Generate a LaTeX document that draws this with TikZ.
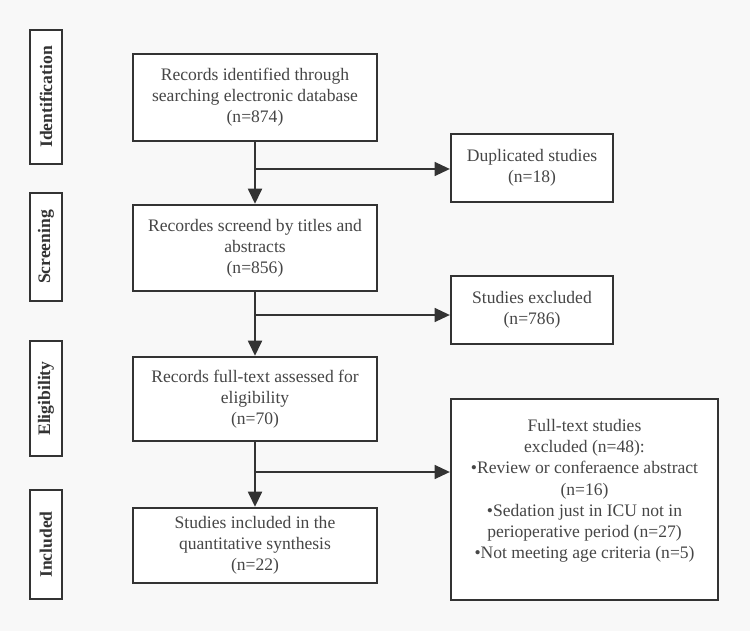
\documentclass[tikz,border=0pt]{standalone}
\usepackage{fontspec}
\setmainfont{Liberation Serif}
\usetikzlibrary{arrows.meta}
\definecolor{bg}{HTML}{F8F8F8}
\definecolor{ink}{HTML}{333333}
\definecolor{txt}{HTML}{464646}

\begin{document}
\begin{tikzpicture}[
	box/.style = {draw=ink, fill=white, line width=2pt, text=txt, align=center, inner sep=0pt, font=\fontsize{15}{18}\selectfont},
	phase/.style = {box, rotate=90, text=ink, minimum height=0.96cm, font=\fontsize{15}{18}\selectfont\bfseries},
	flow/.style = {draw=ink, line width=1.7pt, -{Triangle[length=13pt,width=12pt]}},
	side/.style = {draw=ink, line width=1.1pt, -{Triangle[length=13pt,width=12pt]}}
]

	\fill [bg] (0,0) rectangle (22.5,18.93);

	% phases
	\node [phase, minimum width=4.02cm] (ident) at (1.38,16.02) {Identification};
	\node [phase, minimum width=3.24cm] (screen) at (1.38,11.52) {Screening};
	\node [phase, minimum width=3.45cm] (elig) at (1.38,6.975) {Eligibility};
	\node [phase, minimum width=3.27cm] (incl) at (1.38,2.595) {Included};

	% main boxes
	\node [box, minimum width=7.32cm, minimum height=2.61cm] (records) at (7.65,16.005) {Records identified through\\searching electronic database\\(n=874)};
	\node [box, minimum width=7.32cm, minimum height=2.58cm] (screened) at (7.65,11.49) {Recordes screend by titles and\\abstracts\\(n=856)};
	\node [box, minimum width=7.32cm, minimum height=2.52cm] (fulltext) at (7.65,6.96) {Records full-text assessed for\\eligibility\\(n=70)};
	\node [box, minimum width=7.32cm, minimum height=2.25cm] (included) at (7.65,2.565) {Studies included in the\\quantitative synthesis\\(n=22)};

	% excluded boxes
	\node [box, minimum width=4.86cm, minimum height=2.04cm] (dup) at (15.96,13.89) {Duplicated studies\\(n=18)};
	\node [box, minimum width=4.86cm, minimum height=2.04cm] (excl) at (15.96,9.63) {Studies excluded\\(n=786)};
	\node [box, minimum width=8.01cm, minimum height=6.03cm] (ftexcl) at (17.535,3.945) {Full-text studies\\excluded (n=48):\\\textbullet Review or conferaence abstract\\(n=16)\\\textbullet Sedation just in ICU not in\\perioperative period (n=27)\\\textbullet Not meeting age criteria (n=5)\\\mbox{}};

	\coordinate (b1) at (7.65,13.86);
	\coordinate (b2) at (7.65,9.48);
	\coordinate (b3) at (7.65,4.77);

	\draw [flow] (records) -- (screened);
	\draw [flow] (screened) -- (fulltext);
	\draw [flow] (fulltext) -- (included);

	\draw [side] (b1) -- (b1 -| dup.west);
	\draw [side] (b2) -- (b2 -| excl.west);
	\draw [side] (b3) -- (b3 -| ftexcl.west);

\end{tikzpicture}
\end{document}
